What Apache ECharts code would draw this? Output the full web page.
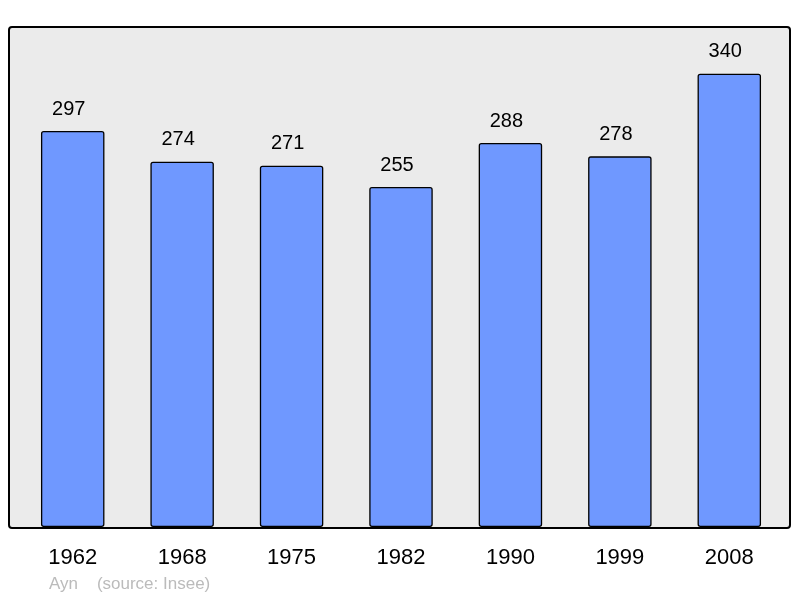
<!DOCTYPE html>
<html>
<head>
<meta charset="utf-8">
<script src="https://cdn.jsdelivr.net/npm/echarts@6/dist/echarts.min.js"></script>
<style>
  html, body { margin: 0; padding: 0; background: #fff; }
  #chart { width: 800px; height: 598px; }
</style>
</head>
<body>
<div id="chart"></div>
<script>
var years = ['1962', '1968', '1975', '1982', '1990', '1999', '2008'];
var population = [297, 274, 271, 255, 288, 278, 340];

var chart = echarts.init(document.getElementById('chart'));

var option = {
    animation: false,
    backgroundColor: '#ffffff',
    graphic: [
        {
            type: 'rect',
            z: -10,
            shape: { x: 9, y: 27, width: 781, height: 501, r: 3 },
            style: { fill: '#ebebeb', stroke: '#000', lineWidth: 2 }
        },
        {
            type: 'text',
            left: 49,
            top: 576,
            style: {
                text: 'Ayn    (source: Insee)',
                fill: '#bbbbbb',
                font: '17px "Liberation Sans", Arial, sans-serif'
            }
        }
    ],
    grid: { left: 18, right: 16, top: 27, bottom: 71 },
    xAxis: {
        type: 'category',
        data: years,
        axisLine: { show: false },
        axisTick: { show: false },
        axisLabel: {
            color: '#000',
            fontSize: 22,
            fontFamily: '"Liberation Sans", Arial, sans-serif',
            margin: 20
        }
    },
    yAxis: {
        type: 'value',
        min: 0,
        max: 375,
        show: false,
        splitLine: { show: false }
    },
    series: [{
        type: 'bar',
        data: population,
        barWidth: '58%',
        itemStyle: {
            color: '#6f98ff',
            borderColor: '#000',
            borderWidth: 1.3,
            borderRadius: 2
        },
        label: {
            show: true,
            position: 'top',
            distance: 12,
            offset: [-4, 0],
            color: '#000',
            fontSize: 20,
            fontFamily: '"Liberation Sans", Arial, sans-serif'
        }
    }]
};

chart.setOption(option);
</script>
</body>
</html>
